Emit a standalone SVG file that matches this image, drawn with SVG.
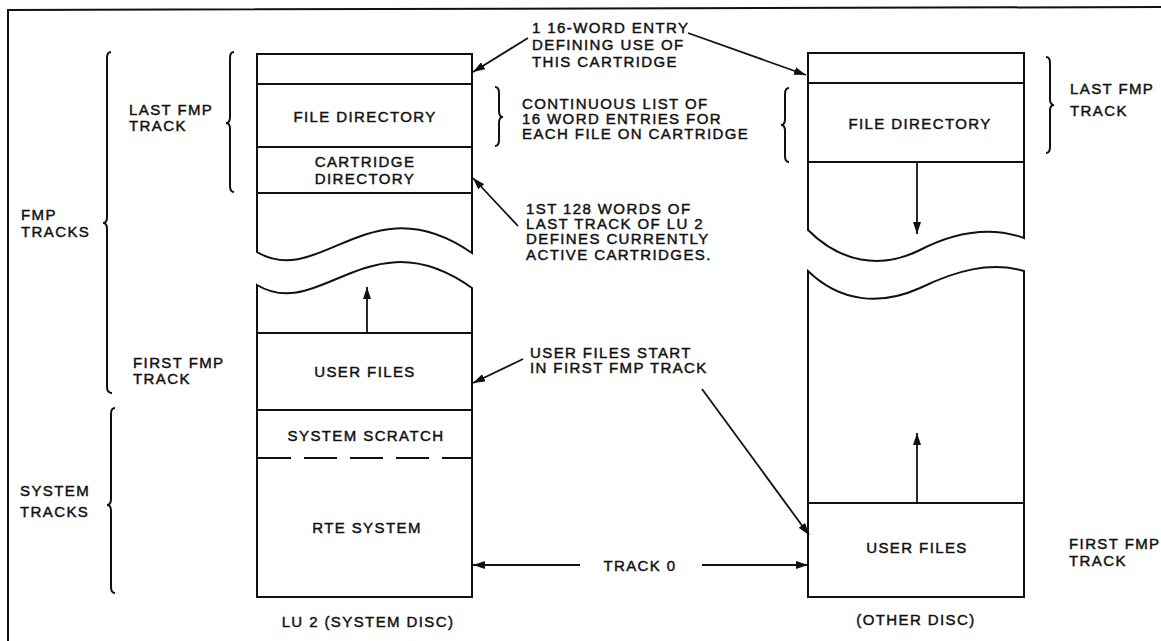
<svg xmlns="http://www.w3.org/2000/svg" width="1161" height="641" viewBox="0 0 1161 641">
<style>
.t{font-family:"Liberation Sans",Arial,sans-serif;font-size:15px;letter-spacing:1.4px;fill:#111;stroke:#111;stroke-width:0.45px;}
.c{text-anchor:middle;}
.ln{fill:none;stroke:#111;stroke-width:2;}
.box{fill:#fff;stroke:#111;stroke-width:2;stroke-linejoin:miter;}
.br{fill:none;stroke:#111;stroke-width:2;}
.ar{fill:none;stroke:#111;stroke-width:1.8;marker-end:url(#ah);}
</style>
<defs>
<marker id="ah" viewBox="0 0 12 8" refX="12" refY="4" markerWidth="12" markerHeight="8" markerUnits="userSpaceOnUse" orient="auto">
<path d="M0,0 L12,4 L0,8 z" fill="#111"/>
</marker>
</defs>
<rect width="1161" height="641" fill="#fff"/>
<g id="frame">
<path class="ln" d="M8,641 L8,10 L1161,7"/>
</g>
<g id="braces">
<path class="br" d="M111,52 Q107,52 107,58 L107,217 Q107,223 103,223 Q107,223 107,229 L107,387 Q107,393 112,393"/>
<path class="br" d="M234,52 Q230,52 230,58 L230,117 Q230,123 226,123 Q230,123 230,129 L230,186 Q230,192 234,192"/>
<path class="br" d="M115,408 Q111,408 111,414 L111,499 Q111,505 107,505 Q111,505 111,511 L111,587 Q111,593 115,593"/>
<path class="br" d="M495,87 Q499,87 499,93 L499,111 Q499,117 503,117 Q499,117 499,123 L499,140 Q499,146 495,146"/>
<path class="br" d="M789,88 Q785,88 785,94 L785,119 Q785,125 781,125 Q785,125 785,131 L785,156 Q785,162 789,162"/>
<path class="br" d="M1046,57 Q1050,57 1050,63 L1050,99 Q1050,105 1054,105 Q1050,105 1050,111 L1050,147 Q1050,153 1046,153"/>
</g>
<g id="lu2-disc">
<path class="box" d="M472,253 L472,54 L257,54 L257,252 C320,290 370,182 472,253 Z"/>
<line class="ln" x1="257" y1="84" x2="472" y2="84"/>
<line class="ln" x1="257" y1="147" x2="472" y2="147"/>
<line class="ln" x1="257" y1="193" x2="472" y2="193"/>
<text class="t c" x="365" y="122">FILE DIRECTORY</text>
<text class="t c" x="365" y="167">CARTRIDGE</text>
<text class="t c" x="365" y="184">DIRECTORY</text>
<path class="box" d="M257,285 C320,323 370,215 472,288 L472,597 L257,597 Z"/>
<line class="ln" x1="257" y1="333" x2="472" y2="333"/>
<line class="ln" x1="257" y1="410" x2="472" y2="410"/>
<line class="ln" x1="258" y1="458" x2="472" y2="458" stroke-dasharray="33 13"/>
<text class="t c" x="365" y="377">USER FILES</text>
<text class="t c" x="366" y="441">SYSTEM SCRATCH</text>
<text class="t c" x="367" y="533">RTE SYSTEM</text>
<text class="t c" x="368" y="627">LU 2 (SYSTEM DISC)</text>
</g>
<g id="other-disc">
<path class="box" d="M1024,238 L1024,53 L808,53 L808,230 C840,262 880,270 920,250 C955,232 990,226 1024,238 Z"/>
<line class="ln" x1="808" y1="83" x2="1024" y2="83"/>
<line class="ln" x1="808" y1="162" x2="1024" y2="162"/>
<text class="t c" x="920" y="129">FILE DIRECTORY</text>
<path class="box" d="M808,271 C840,302 880,306 920,288 C955,271 990,261 1024,271 L1024,597 L808,597 Z"/>
<line class="ln" x1="808" y1="503" x2="1024" y2="503"/>
<text class="t c" x="917" y="553">USER FILES</text>
<text class="t c" x="916" y="625">(OTHER DISC)</text>
</g>
<g id="labels">
<text class="t" x="129" y="115">LAST FMP</text>
<text class="t" x="129" y="131">TRACK</text>
<text class="t" x="21" y="220">FMP</text>
<text class="t" x="21" y="237">TRACKS</text>
<text class="t" x="133" y="368">FIRST FMP</text>
<text class="t" x="133" y="384">TRACK</text>
<text class="t" x="20" y="496">SYSTEM</text>
<text class="t" x="20" y="517">TRACKS</text>
<text class="t" x="1070" y="94">LAST FMP</text>
<text class="t" x="1070" y="116">TRACK</text>
<text class="t" x="1069" y="549">FIRST FMP</text>
<text class="t" x="1069" y="566">TRACK</text>
<text class="t" x="532" y="33">1 16-WORD ENTRY</text>
<text class="t" x="532" y="50">DEFINING USE OF</text>
<text class="t" x="532" y="67">THIS CARTRIDGE</text>
<text class="t" x="522" y="109">CONTINUOUS LIST OF</text>
<text class="t" x="522" y="124">16 WORD ENTRIES FOR</text>
<text class="t" x="522" y="139">EACH FILE ON CARTRIDGE</text>
<text class="t" x="526" y="214">1ST 128 WORDS OF</text>
<text class="t" x="526" y="229">LAST TRACK OF LU 2</text>
<text class="t" x="526" y="244">DEFINES CURRENTLY</text>
<text class="t" x="526" y="260">ACTIVE CARTRIDGES.</text>
<text class="t" x="530" y="358">USER FILES START</text>
<text class="t" x="530" y="373">IN FIRST FMP TRACK</text>
<text class="t c" x="640" y="571">TRACK 0</text>
</g>
<g id="connectors">
<line class="ar" x1="528" y1="38" x2="473" y2="72"/>
<line class="ar" x1="688" y1="33" x2="806" y2="75"/>
<line class="ar" x1="518" y1="226" x2="473" y2="178"/>
<line class="ar" x1="523" y1="359" x2="473" y2="383"/>
<line class="ar" x1="702" y1="389" x2="809" y2="535"/>
<line class="ar" x1="580" y1="565" x2="473" y2="565"/>
<line class="ar" x1="702" y1="565" x2="808" y2="565"/>
<line class="ar" x1="367" y1="333" x2="367" y2="287"/>
<line class="ar" x1="917" y1="162" x2="917" y2="234"/>
<line class="ar" x1="917" y1="503" x2="917" y2="433"/>
</g>
</svg>
